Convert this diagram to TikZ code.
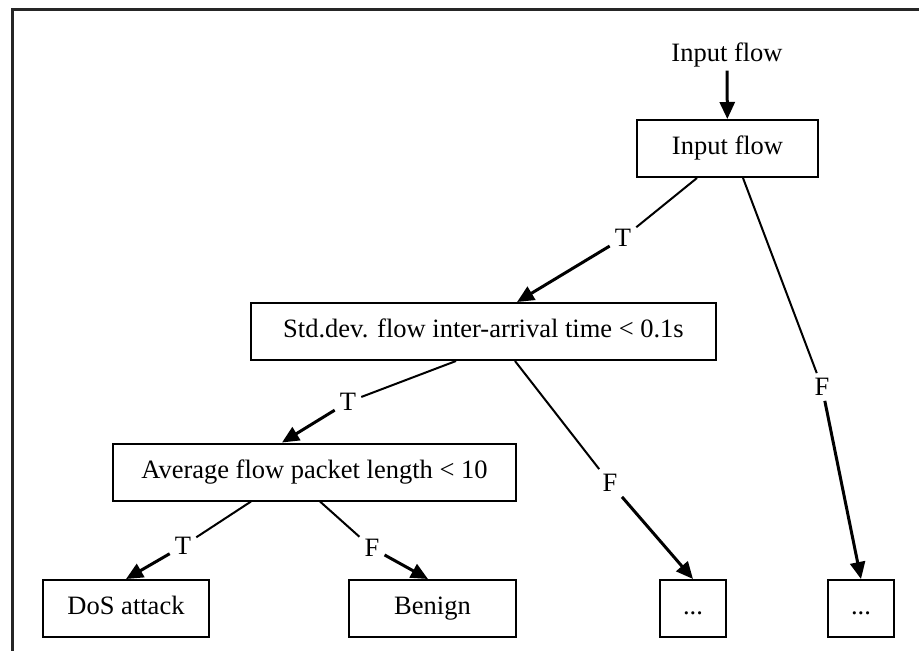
\documentclass[tikz,border=0pt]{standalone}
\usepackage{fontspec}
\setmainfont{Liberation Serif}
\usetikzlibrary{calc}
\usetikzlibrary{positioning}
\usetikzlibrary{arrows.meta}
\tikzstyle{boxnode} = [draw, rectangle, line width=2pt, minimum height=57pt, inner sep=0pt, text height=18pt, text depth=6pt, align=center]
\tikzstyle{labnode} = [inner sep=5pt]
\tikzstyle{thinedge} = [line width=2pt]
\tikzstyle{arredge} = [line width=3pt, -{Triangle[length=17pt,width=15pt]}]

\begin{document}
\begin{tikzpicture}[x=1pt, y=-1pt, font=\fontsize{26.5}{30}\selectfont]
\useasboundingbox (0,0) rectangle (919,651);
\clip (0,0) rectangle (919,651);
\draw[line width=3pt, black!85] (12,9) rectangle (960,700);

\node (src) at (727,55) {Input flow};
\node[boxnode, minimum width=181pt] (root) at (727.5,148.5) {Input flow};
\node[boxnode, minimum width=465pt] (std) at (483.5,331.5) {Std.dev. flow inter-arrival time < 0.1s};
\node[boxnode, minimum width=403pt] (avg) at (314.5,472) {Average flow packet length < 10};
\node[boxnode, minimum width=166pt] (dos) at (126,608.5) {DoS attack};
\node[boxnode, minimum width=167pt] (benign) at (432.5,608.5) {Benign};
\node[boxnode, minimum width=66pt] (more1) at (693,608.5) {...};
\node[boxnode, minimum width=66pt] (more2) at (861,608.5) {...};

\node[labnode] (t1) at (623,238) {T};
\node[labnode] (f1) at (822,387) {F};
\node[labnode] (t2) at (348,402) {T};
\node[labnode] (f2) at (610,483) {F};
\node[labnode] (t3) at (183,546) {T};
\node[labnode] (f3) at (372,548) {F};

\draw[arredge] (src) -- (root);

\draw[thinedge] ($(root.south)+(-30.5,0)$) -- (t1);
\draw[arredge] (t1) -- ($(std.north)+(33.5,0)$);
\draw[thinedge] ($(root.south)+(15.5,0)$) -- (f1);
\draw[arredge] (f1) -- (more2.north);

\draw[thinedge] ($(std.south)+(-27.5,0)$) -- (t2);
\draw[arredge] (t2) -- ($(avg.north)+(-32.5,0)$);
\draw[thinedge] ($(std.south)+(31.5,0)$) -- (f2);
\draw[arredge] (f2) -- (more1.north);

\draw[thinedge] ($(avg.south)+(-63.5,0)$) -- (t3);
\draw[arredge] (t3) -- (dos.north);
\draw[thinedge] ($(avg.south)+(5.5,0)$) -- (f3);
\draw[arredge] (f3) -- ($(benign.north)+(-4.5,0)$);
\end{tikzpicture}
\end{document}
